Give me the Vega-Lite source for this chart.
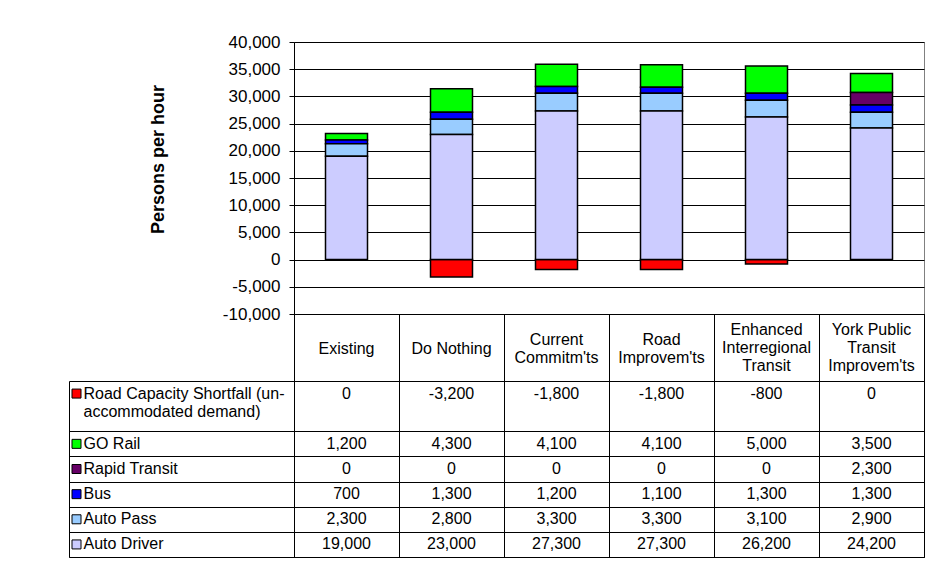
{
  "$schema": "https://vega.github.io/schema/vega-lite/v6.json",
  "background": "white",
  "padding": {"left": 68, "top": 32, "right": 0, "bottom": 0},
  "columns": 2,
  "bounds": "flush",
  "spacing": 0,
  "config": {
    "view": {"stroke": null},
    "font": "Liberation Sans",
    "locale": {"number": {"decimal": ".", "thousands": ",", "grouping": [3], "currency": ["$", ""], "minus": "-"}},
    "axis": {"labelFont": "Liberation Sans", "titleFont": "Liberation Sans"},
    "text": {"font": "Liberation Sans", "fontSize": 16, "color": "black"}
  },
  "datasets": {
    "table": [
      {"category": "Existing", "series": "Road Capacity Shortfall (un-accommodated demand)", "value": 0},
      {"category": "Existing", "series": "GO Rail", "value": 1200},
      {"category": "Existing", "series": "Rapid Transit", "value": 0},
      {"category": "Existing", "series": "Bus", "value": 700},
      {"category": "Existing", "series": "Auto Pass", "value": 2300},
      {"category": "Existing", "series": "Auto Driver", "value": 19000},
      {"category": "Do Nothing", "series": "Road Capacity Shortfall (un-accommodated demand)", "value": -3200},
      {"category": "Do Nothing", "series": "GO Rail", "value": 4300},
      {"category": "Do Nothing", "series": "Rapid Transit", "value": 0},
      {"category": "Do Nothing", "series": "Bus", "value": 1300},
      {"category": "Do Nothing", "series": "Auto Pass", "value": 2800},
      {"category": "Do Nothing", "series": "Auto Driver", "value": 23000},
      {"category": "Current Commitm'ts", "series": "Road Capacity Shortfall (un-accommodated demand)", "value": -1800},
      {"category": "Current Commitm'ts", "series": "GO Rail", "value": 4100},
      {"category": "Current Commitm'ts", "series": "Rapid Transit", "value": 0},
      {"category": "Current Commitm'ts", "series": "Bus", "value": 1200},
      {"category": "Current Commitm'ts", "series": "Auto Pass", "value": 3300},
      {"category": "Current Commitm'ts", "series": "Auto Driver", "value": 27300},
      {"category": "Road Improvem'ts", "series": "Road Capacity Shortfall (un-accommodated demand)", "value": -1800},
      {"category": "Road Improvem'ts", "series": "GO Rail", "value": 4100},
      {"category": "Road Improvem'ts", "series": "Rapid Transit", "value": 0},
      {"category": "Road Improvem'ts", "series": "Bus", "value": 1100},
      {"category": "Road Improvem'ts", "series": "Auto Pass", "value": 3300},
      {"category": "Road Improvem'ts", "series": "Auto Driver", "value": 27300},
      {"category": "Enhanced Interregional Transit", "series": "Road Capacity Shortfall (un-accommodated demand)", "value": -800},
      {"category": "Enhanced Interregional Transit", "series": "GO Rail", "value": 5000},
      {"category": "Enhanced Interregional Transit", "series": "Rapid Transit", "value": 0},
      {"category": "Enhanced Interregional Transit", "series": "Bus", "value": 1300},
      {"category": "Enhanced Interregional Transit", "series": "Auto Pass", "value": 3100},
      {"category": "Enhanced Interregional Transit", "series": "Auto Driver", "value": 26200},
      {"category": "York Public Transit Improvem'ts", "series": "Road Capacity Shortfall (un-accommodated demand)", "value": 0},
      {"category": "York Public Transit Improvem'ts", "series": "GO Rail", "value": 3500},
      {"category": "York Public Transit Improvem'ts", "series": "Rapid Transit", "value": 2300},
      {"category": "York Public Transit Improvem'ts", "series": "Bus", "value": 1300},
      {"category": "York Public Transit Improvem'ts", "series": "Auto Pass", "value": 2900},
      {"category": "York Public Transit Improvem'ts", "series": "Auto Driver", "value": 24200}
    ],
    "cats": [
      {"category": "Existing", "label": "Existing"},
      {"category": "Do Nothing", "label": "Do Nothing"},
      {"category": "Current Commitm'ts", "label": "Current\nCommitm'ts"},
      {"category": "Road Improvem'ts", "label": "Road\nImprovem'ts"},
      {"category": "Enhanced Interregional Transit", "label": "Enhanced\nInterregional\nTransit"},
      {"category": "York Public Transit Improvem'ts", "label": "York Public\nTransit\nImprovem'ts"}
    ],
    "legend": [
      {"series": "Road Capacity Shortfall (un-accommodated demand)", "label": "Road Capacity Shortfall (un-\naccommodated demand)"},
      {"series": "GO Rail", "label": "GO Rail"},
      {"series": "Rapid Transit", "label": "Rapid Transit"},
      {"series": "Bus", "label": "Bus"},
      {"series": "Auto Pass", "label": "Auto Pass"},
      {"series": "Auto Driver", "label": "Auto Driver"}
    ]
  },
  "concat": [
    {
      "width": 225, "height": 272,
      "data": {"values": [{}]},
      "mark": {"type": "point", "opacity": 0},
      "encoding": {}
    },
    {
      "width": 630, "height": 272,
      "view": {"stroke": "#808080", "strokeWidth": 1},
      "data": {"name": "table"},
      "transform": [
        {"filter": "datum.value != 0"},
        {"calculate": "indexof(['Auto Driver','Auto Pass','Bus','Rapid Transit','GO Rail','Road Capacity Shortfall (un-accommodated demand)'], datum.series)", "as": "ord"}
      ],
      "mark": {"type": "bar", "stroke": "black", "strokeWidth": 1.5},
      "encoding": {
        "x": {
          "field": "category", "type": "nominal",
          "sort": ["Existing", "Do Nothing", "Current Commitm'ts", "Road Improvem'ts", "Enhanced Interregional Transit", "York Public Transit Improvem'ts"],
          "scale": {"paddingInner": 0.6, "paddingOuter": 0.3},
          "axis": null
        },
        "y": {
          "field": "value", "type": "quantitative", "stack": "zero",
          "scale": {"domain": [-10000, 40000], "nice": false, "zero": false},
          "axis": {
            "values": [-10000, -5000, 0, 5000, 10000, 15000, 20000, 25000, 30000, 35000, 40000],
            "format": ",d",
            "title": "Persons per hour",
            "titleFontSize": 18, "titleFontWeight": "bold", "titleColor": "black",
            "titleX": -136, "titleY": 117, "titleAngle": 270, "titleBaseline": "middle", "titleAlign": "center",
            "grid": true, "gridColor": "black", "gridWidth": 1, "gridOpacity": 1,
            "domainColor": "black", "tickColor": "black", "tickSize": 5,
            "labelFontSize": 17, "labelColor": "black", "labelPadding": 9
          }
        },
        "color": {
          "field": "series", "type": "nominal",
          "scale": {
            "domain": ["Road Capacity Shortfall (un-accommodated demand)", "GO Rail", "Rapid Transit", "Bus", "Auto Pass", "Auto Driver"],
            "range": ["#FF0000", "#00FF00", "#660066", "#0000FF", "#99CCFF", "#CCCCFF"]
          },
          "legend": null
        },
        "order": {"field": "ord", "type": "quantitative", "sort": "ascending"}
      }
    },
    {
      "width": 225, "height": 67,
      "data": {"values": [{}]},
      "mark": {"type": "point", "opacity": 0},
      "encoding": {}
    },
    {
      "width": 630, "height": 67,
      "view": {"stroke": "black", "strokeWidth": 1},
      "data": {"name": "cats"},
      "encoding": {
        "x": {
          "field": "category", "type": "nominal",
          "sort": ["Existing", "Do Nothing", "Current Commitm'ts", "Road Improvem'ts", "Enhanced Interregional Transit", "York Public Transit Improvem'ts"],
          "scale": {"paddingInner": 0, "paddingOuter": 0},
          "axis": {"grid": true, "gridColor": "black", "gridOpacity": 1, "tickBand": "extent", "labels": false, "ticks": false, "domain": false, "title": null}
        },
        "text": {"field": "label"}
      },
      "layer": [
        {
          "transform": [{"filter": "length(split(datum.label, '\\n')) == 1"}],
          "mark": {"type": "text", "lineBreak": "\n", "fontSize": 16, "lineHeight": 18, "baseline": "middle", "align": "center", "dy": 1}
        },
        {
          "transform": [{"filter": "length(split(datum.label, '\\n')) == 2"}],
          "mark": {"type": "text", "lineBreak": "\n", "fontSize": 16, "lineHeight": 18, "baseline": "middle", "align": "center", "dy": -8}
        },
        {
          "transform": [{"filter": "length(split(datum.label, '\\n')) == 3"}],
          "mark": {"type": "text", "lineBreak": "\n", "fontSize": 16, "lineHeight": 18, "baseline": "middle", "align": "center", "dy": -18}
        }
      ]
    },
    {
      "width": 225, "height": 176,
      "view": {"stroke": "black", "strokeWidth": 1},
      "data": {"name": "legend"},
      "layer": [
        {
          "mark": {"type": "square", "filled": true, "opacity": 1, "size": 81, "stroke": "black", "strokeWidth": 1, "xOffset": -105},
          "encoding": {
            "y": {
              "field": "series", "type": "nominal",
              "scale": {"domain": ["Road Capacity Shortfall (un-accommodated demand)", "(cont)", "GO Rail", "Rapid Transit", "Bus", "Auto Pass", "Auto Driver"], "paddingInner": 0, "paddingOuter": 0},
              "axis": {"grid": true, "gridColor": "black", "gridOpacity": 1, "tickBand": "extent", "values": ["GO Rail", "Rapid Transit", "Bus", "Auto Pass", "Auto Driver"], "labels": false, "ticks": false, "domain": false, "title": null}
            },
            "color": {
              "field": "series", "type": "nominal",
              "scale": {
                "domain": ["Road Capacity Shortfall (un-accommodated demand)", "GO Rail", "Rapid Transit", "Bus", "Auto Pass", "Auto Driver"],
                "range": ["#FF0000", "#00FF00", "#660066", "#0000FF", "#99CCFF", "#CCCCFF"]
              },
              "legend": null
            }
          }
        },
        {
          "mark": {"type": "text", "lineBreak": "\n", "fontSize": 16, "lineHeight": 18, "baseline": "line-top", "align": "left", "dx": -98, "dy": -9},
          "encoding": {
            "y": {"field": "series", "type": "nominal"},
            "text": {"field": "label"}
          }
        }
      ]
    },
    {
      "width": 630, "height": 176,
      "view": {"stroke": "black", "strokeWidth": 1},
      "data": {"name": "table"},
      "mark": {"type": "text", "fontSize": 16, "baseline": "middle", "align": "center"},
      "encoding": {
        "x": {
          "field": "category", "type": "nominal",
          "sort": ["Existing", "Do Nothing", "Current Commitm'ts", "Road Improvem'ts", "Enhanced Interregional Transit", "York Public Transit Improvem'ts"],
          "scale": {"paddingInner": 0, "paddingOuter": 0},
          "axis": {"grid": true, "gridColor": "black", "gridOpacity": 1, "tickBand": "extent", "labels": false, "ticks": false, "domain": false, "title": null}
        },
        "y": {
          "field": "series", "type": "nominal",
          "scale": {"domain": ["Road Capacity Shortfall (un-accommodated demand)", "(cont)", "GO Rail", "Rapid Transit", "Bus", "Auto Pass", "Auto Driver"], "paddingInner": 0, "paddingOuter": 0},
          "axis": {"grid": true, "gridColor": "black", "gridOpacity": 1, "tickBand": "extent", "values": ["GO Rail", "Rapid Transit", "Bus", "Auto Pass", "Auto Driver"], "labels": false, "ticks": false, "domain": false, "title": null}
        },
        "text": {"field": "value", "type": "quantitative", "format": ",d"}
      }
    }
  ]
}
